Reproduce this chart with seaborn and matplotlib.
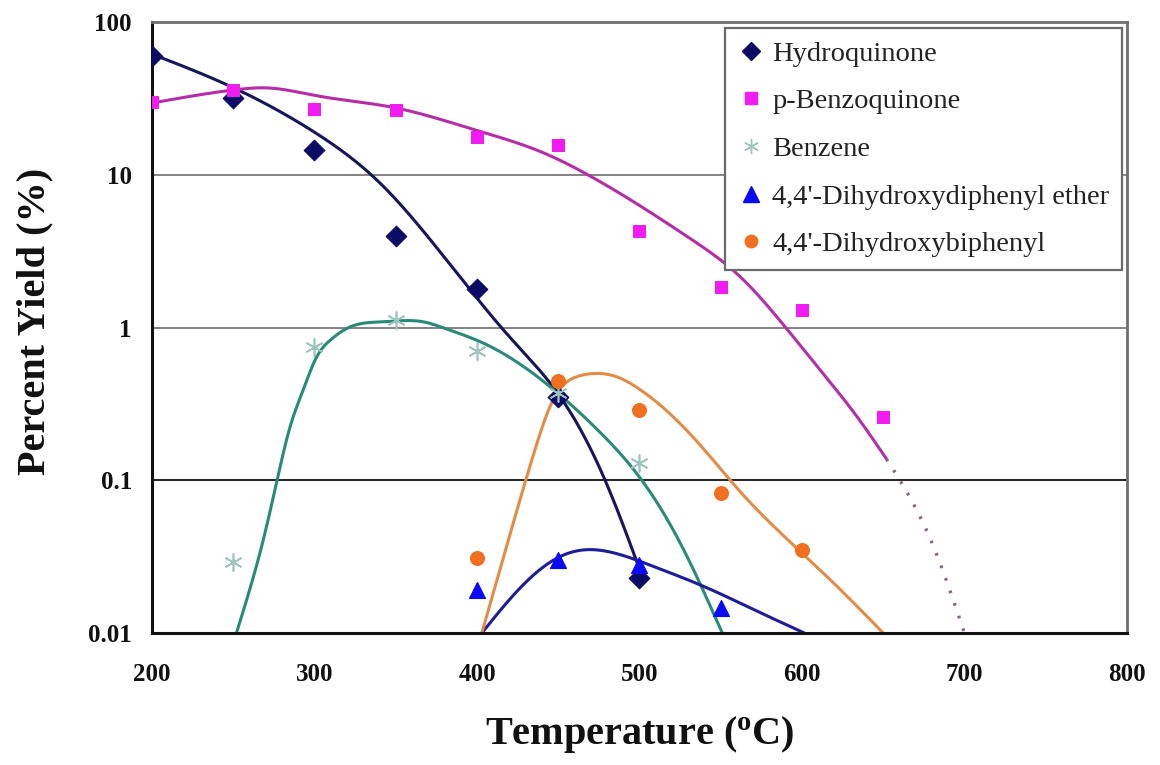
import numpy as np
import pandas as pd
import matplotlib
matplotlib.use("Agg")
import matplotlib.pyplot as plt
from matplotlib.lines import Line2D
from matplotlib.ticker import NullLocator, FixedLocator, FixedFormatter
import seaborn as sns

# ---- measured yields (%) -------------------------------------------------
hq_T = [200, 250, 300, 350, 400, 450, 500]
hq_Y = [60, 32, 14.5, 4.0, 1.8, 0.35, 0.023]

bq_T = [200, 250, 300, 350, 400, 450, 500, 550, 600, 650]
bq_Y = [30, 36, 27, 26.5, 17.7, 15.7, 4.3, 1.84, 1.30, 0.26]

bz_T = [250, 300, 350, 400, 450, 500]
bz_Y = [0.029, 0.75, 1.12, 0.70, 0.37, 0.13]

ether_T = [400, 450, 500, 550]
ether_Y = [0.019, 0.030, 0.028, 0.0146]

biph_T = [400, 450, 500, 550, 600]
biph_Y = [0.031, 0.45, 0.29, 0.083, 0.035]

# ---- trend curves (%) ----------------------------------------------------
hq_fit_T = [200, 250, 300, 340, 380, 420, 451, 478, 502]
hq_fit_Y = [61.7, 37.2, 19.0, 8.9, 2.88, 0.87, 0.355, 0.105, 0.023]

bq_fit_T = [200, 250, 272, 300, 350, 400, 439, 472, 500, 531, 562, 590, 613, 634, 652]
bq_fit_Y = [29.5, 35.9, 37, 33.1, 27.4, 19.5, 14.2, 9.5, 6.3, 3.84, 2.15, 1.0, 0.5, 0.26, 0.138]

bq_ext_T = [652, 680, 700]
bq_ext_Y = [0.138, 0.039, 0.01]

bz_fit_T = [252, 260, 268.5, 277, 285, 293, 301, 310, 322, 342, 355, 367, 380, 404,
            424, 450, 475, 500, 525, 551]
bz_fit_Y = [0.01, 0.019, 0.0407, 0.1, 0.224, 0.389, 0.631, 0.832, 1.01, 1.09, 1.11,
            1.09, 0.99, 0.79, 0.60, 0.37, 0.21, 0.105, 0.039, 0.01]

ether_fit_T = [403, 426.5, 451, 465.5, 488.6, 509, 540, 570.6, 601.5]
ether_fit_Y = [0.01, 0.0197, 0.0316, 0.035, 0.0325, 0.0272, 0.0201, 0.0142, 0.01]

biph_fit_T = [403, 420, 435, 448, 460, 472, 485, 500, 520, 540, 560, 590, 620, 650]
biph_fit_Y = [0.01, 0.043, 0.15, 0.355, 0.47, 0.50, 0.48, 0.395, 0.265, 0.158, 0.089,
              0.042, 0.021, 0.01]

series_names = ["Hydroquinone", "p-Benzoquinone", "Benzene",
                "4,4'-Dihydroxydiphenyl ether", "4,4'-Dihydroxybiphenyl"]
y_ticks = [0.01, 0.1, 1, 10, 100]
y_tick_labels = ["0.01", "0.1", "1", "10", "100"]
x_ticks = [200, 300, 400, 500, 600, 700, 800]


def smooth(xk, yk, n=400):
    """Natural cubic spline through the knots, built in log10 space."""
    x = np.asarray(xk, float)
    y = np.log10(np.asarray(yk, float))
    k = len(x)
    h = np.diff(x)
    A = np.zeros((k, k))
    b = np.zeros(k)
    A[0, 0] = A[-1, -1] = 1.0
    for i in range(1, k - 1):
        A[i, i - 1] = h[i - 1]
        A[i, i] = 2 * (h[i - 1] + h[i])
        A[i, i + 1] = h[i]
        b[i] = 6 * ((y[i + 1] - y[i]) / h[i] - (y[i] - y[i - 1]) / h[i - 1])
    M = np.linalg.solve(A, b)
    xs = np.linspace(x[0], x[-1], n)
    j = np.clip(np.searchsorted(x, xs) - 1, 0, k - 2)
    hj = h[j]
    a = x[j + 1] - xs
    c = xs - x[j]
    ys = (M[j] * a**3 / (6 * hj) + M[j + 1] * c**3 / (6 * hj)
          + (y[j] / hj - M[j] * hj / 6) * a + (y[j + 1] / hj - M[j + 1] * hj / 6) * c)
    return pd.DataFrame({"T": xs, "Y": 10**ys})


sns.set_theme(style="white")
plt.rcParams["font.family"] = ["Liberation Serif", "DejaVu Serif"]

fig = plt.figure(figsize=(11.6, 7.65), dpi=100)
ax = fig.add_axes([0.131, 0.1725, 0.8405, 0.7987])
ax.set_facecolor("white")

c_hq_line, c_hq = "#16165c", "#0c0c66"
c_bq_line, c_bq = "#b52ea8", "#f21bf2"
c_bz_line, c_bz = "#2a8a78", "#9cc4bc"
c_et_line, c_et = "#1d1d9a", "#0a0af5"
c_bp_line, c_bp = "#e38c48", "#f07020"

lw = 2.2
line_kw = dict(x="T", y="Y", ax=ax, sort=False, estimator=None, legend=False)
sns.lineplot(data=smooth(hq_fit_T, hq_fit_Y), color=c_hq_line, lw=lw, **line_kw)
sns.lineplot(data=smooth(bq_fit_T, bq_fit_Y), color=c_bq_line, lw=lw, **line_kw)
sns.lineplot(data=smooth(bq_ext_T, bq_ext_Y, 80), color="#8c6488", lw=2.4,
             linestyle=(0, (0.8, 3.2)), **line_kw)
sns.lineplot(data=smooth(bz_fit_T, bz_fit_Y), color=c_bz_line, lw=lw, **line_kw)
sns.lineplot(data=smooth(ether_fit_T, ether_fit_Y), color=c_et_line, lw=lw, **line_kw)
sns.lineplot(data=smooth(biph_fit_T, biph_fit_Y), color=c_bp_line, lw=lw, **line_kw)

mk = dict(ax=ax, legend=False, zorder=5)
sns.scatterplot(x=hq_T, y=hq_Y, marker="D", s=110, color=c_hq, edgecolor=c_hq, **mk)
sns.scatterplot(x=bq_T, y=bq_Y, marker="s", s=80, color=c_bq, edgecolor=c_bq, **mk)
sns.scatterplot(x=bz_T, y=bz_Y, marker=(6, 2, 0), s=150, color=c_bz, linewidth=1.2, **mk)
sns.scatterplot(x=ether_T, y=ether_Y, marker="^", s=130, color=c_et, edgecolor=c_et, **mk)
sns.scatterplot(x=biph_T, y=biph_Y, marker="o", s=100, color=c_bp, edgecolor=c_bp, **mk)

ax.set_yscale("log")
ax.set_xlim(200, 800)
ax.set_ylim(0.01, 100)
ax.xaxis.set_major_locator(FixedLocator(x_ticks))
ax.yaxis.set_major_locator(FixedLocator(y_ticks))
ax.yaxis.set_major_formatter(FixedFormatter(y_tick_labels))
ax.yaxis.set_minor_locator(NullLocator())
ax.xaxis.set_minor_locator(NullLocator())

ax.grid(axis="y", color="#7a7a7a", lw=1.3)
ax.grid(axis="x", visible=False)
for val, gl in zip(y_ticks, ax.get_ygridlines()):
    if val == 0.1:
        gl.set_color("#111111")
ax.set_axisbelow(True)

for side in ("left", "bottom"):
    ax.spines[side].set_color("#111111")
    ax.spines[side].set_linewidth(2.2)
for side in ("top", "right"):
    ax.spines[side].set_color("#6e6e6e")
    ax.spines[side].set_linewidth(2.0)

ax.tick_params(axis="both", which="major", direction="inout", length=9, width=1.2,
               color="#222222", labelsize=18, labelcolor="#111111")
ax.tick_params(axis="x", pad=17)
ax.tick_params(axis="y", pad=10)
for lab in ax.get_xticklabels() + ax.get_yticklabels():
    lab.set_fontweight("bold")

ax.set_xlabel(r"Temperature ($\mathregular{^{o}}$C)", fontsize=29, fontweight="bold",
              color="#111111")
ax.set_ylabel("Percent Yield (%)", fontsize=29, fontweight="bold", color="#111111")
ax.xaxis.set_label_coords(0.5, -0.133)
ax.yaxis.set_label_coords(-0.101, 0.51)

handles = [
    Line2D([], [], linestyle="none", marker="D", markersize=9, color=c_hq),
    Line2D([], [], linestyle="none", marker="s", markersize=8, color=c_bq),
    Line2D([], [], linestyle="none", marker=(6, 2, 0), markersize=11, color=c_bz,
           markeredgewidth=1.0),
    Line2D([], [], linestyle="none", marker="^", markersize=11, color=c_et),
    Line2D([], [], linestyle="none", marker="o", markersize=9, color=c_bp),
]
leg = ax.legend(handles, series_names, loc="upper right", bbox_to_anchor=(0.995, 0.99),
                borderaxespad=0, frameon=True, fancybox=False, fontsize=20.5,
                labelspacing=0.76, handlelength=0.9, handletextpad=0.3,
                borderpad=0.45, framealpha=1)
leg.get_frame().set_edgecolor("#6a6a6a")
leg.get_frame().set_linewidth(1.6)
for t in leg.get_texts():
    t.set_color("#222222")

fig.savefig("out.png", dpi=100, facecolor="white")
